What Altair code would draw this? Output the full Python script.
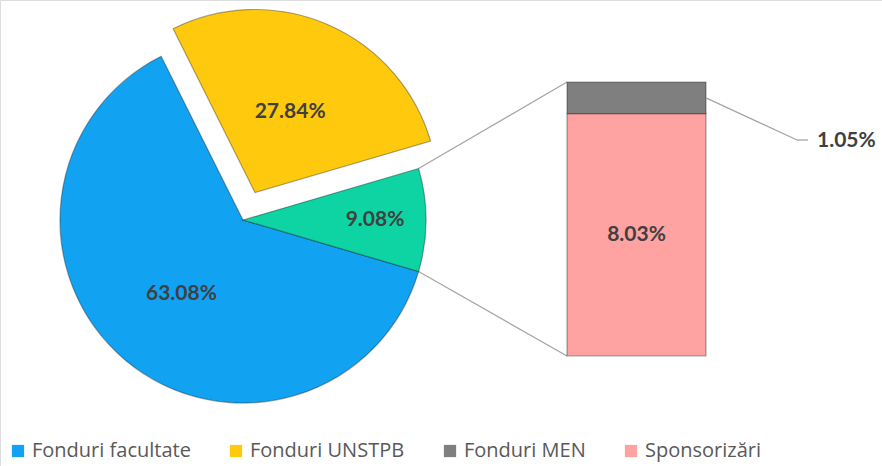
import math
import altair as alt
import pandas as pd

# Funding sources (percent of total)
pie_names = ["Fonduri facultate", "Fonduri UNSTPB", "Altele"]
pie_values = [63.08, 27.84, 9.08]
bar_names = ["Sponsorizări", "Fonduri MEN"]
bar_values = [8.03, 1.05]

legend_names = ["Fonduri facultate", "Fonduri UNSTPB", "Fonduri MEN", "Sponsorizări"]
legend_colors = ["#12A2F2", "#FFC90E", "#7F7F7F", "#FFA2A2"]
other_color = "#0ED3A2"
label_color = "#404040"

W, H = 882, 466
cx, cy, R = 243, 220, 183
explode = 30
bar_left, bar_right, bar_top, bar_bottom = 567, 706, 82, 356

total = sum(pie_values)
other = pie_values[-1]
# rotate so the "other" slice is centred on the right-hand side
start = math.pi / 2 + other / total * math.pi
theta_scale = alt.Scale(domain=[0, total], range=[start, start + 2 * math.pi])

pie_df = pd.DataFrame({"name": pie_names, "value": pie_values, "idx": range(len(pie_names))})
bar_df = pd.DataFrame({"name": bar_names, "value": bar_values, "idx": range(len(bar_names))})

color = alt.Color(
    "name:N",
    scale=alt.Scale(domain=legend_names, range=legend_colors),
    legend=alt.Legend(
        title=None, orient="none", legendX=8, legendY=441, direction="horizontal",
        symbolType="square", symbolSize=150, symbolStrokeWidth=0,
        labelFont="Open Sans", labelFontSize=20, labelColor="#595959",
        labelOffset=4, columnPadding=35, labelLimit=300,
    ),
)

pie_base = (
    alt.Chart(pie_df)
    .transform_stack(stack="value", groupby=[], as_=["v0", "v1"],
                     sort=[alt.SortField("idx", order="ascending")])
    .transform_calculate(mid="(datum.v0 + datum.v1) / 2",
                         lbl="format(datum.value, '.2f') + '%'")
)


def slice_center(name):
    """Pie centre for a slice; the UNSTPB slice is pulled out along its bisector."""
    i = pie_names.index(name)
    if name != "Fonduri UNSTPB":
        return cx, cy
    v0 = sum(pie_values[:i])
    mid = start + (v0 + pie_values[i] / 2) / total * 2 * math.pi
    return cx + explode * math.sin(mid), cy - explode * math.cos(mid)


def arc_layer(name, col):
    x0, y0 = slice_center(name)
    return (
        pie_base.transform_filter(alt.datum.name == name)
        .mark_arc(outerRadius=R, stroke="#00000055", strokeWidth=1.2)
        .encode(
            theta=alt.Theta("v0:Q", scale=theta_scale, stack=False),
            theta2="v1:Q",
            x=alt.value(x0), y=alt.value(y0),
            color=color if col is None else alt.value(col),
        )
    )


def pie_pct(name, r):
    x0, y0 = slice_center(name)
    return (
        pie_base.transform_filter(alt.datum.name == name)
        .mark_text(radius=r, font="Lato", fontWeight="bold", fontSize=21, color=label_color)
        .encode(
            theta=alt.Theta("mid:Q", scale=theta_scale, stack=False),
            x=alt.value(x0), y=alt.value(y0),
            text="lbl:N",
        )
    )


arcs = [
    arc_layer("Fonduri facultate", None),
    arc_layer("Fonduri UNSTPB", None),
    arc_layer("Altele", other_color),
]
pie_labels = [
    pie_pct("Fonduri facultate", 96),
    pie_pct("Fonduri UNSTPB", 88),
    pie_pct("Altele", 132),
]

# connector lines from the edges of the "other" slice to the bar corners
a_top = start - other / total * 2 * math.pi
a_bot = start
p_top = (cx + R * math.sin(a_top), cy - R * math.cos(a_top))
p_bot = (cx + R * math.sin(a_bot), cy - R * math.cos(a_bot))
connectors = [
    alt.Chart(pie_df.head(1)).mark_rule(color="#A6A6A6", strokeWidth=1.3).encode(
        x=alt.value(p[0]), y=alt.value(p[1]), x2=alt.value(bar_left), y2=alt.value(by)
    )
    for p, by in [(p_top, bar_top), (p_bot, bar_bottom)]
]

y_scale = alt.Scale(domain=[0, sum(bar_values)], range=[bar_bottom, bar_top])
bar_base = (
    alt.Chart(bar_df)
    .transform_stack(stack="value", groupby=[], as_=["b0", "b1"],
                     sort=[alt.SortField("idx", order="ascending")])
    .transform_calculate(bmid="(datum.b0 + datum.b1) / 2",
                         lbl="format(datum.value, '.2f') + '%'")
)
bars = bar_base.mark_rect(stroke="#00000055", strokeWidth=1.2).encode(
    x=alt.value(bar_left), x2=alt.value(bar_right),
    y=alt.Y("b0:Q", scale=y_scale, axis=None), y2="b1:Q",
    color=color,
)
inner_label = bar_base.transform_filter(alt.datum.name == "Sponsorizări").mark_text(
    font="Lato", fontWeight="bold", fontSize=21, color=label_color
).encode(
    x=alt.value((bar_left + bar_right) / 2),
    y=alt.Y("bmid:Q", scale=y_scale, axis=None),
    text="lbl:N",
)
# leader line and outside label for the thin top segment
leader1 = bar_base.transform_filter(alt.datum.name == "Fonduri MEN").mark_rule(
    color="#A6A6A6", strokeWidth=1.3
).encode(
    x=alt.value(bar_right), x2=alt.value(797),
    y=alt.Y("bmid:Q", scale=y_scale, axis=None), y2=alt.value(140),
)
leader2 = alt.Chart(pie_df.head(1)).mark_rule(color="#A6A6A6", strokeWidth=1.3).encode(
    x=alt.value(797), x2=alt.value(808), y=alt.value(140)
)
outer_label = bar_base.transform_filter(alt.datum.name == "Fonduri MEN").mark_text(
    font="Lato", fontWeight="bold", fontSize=21, color=label_color, align="left"
).encode(
    x=alt.value(817), y=alt.value(141), text="lbl:N",
)

chart = (
    alt.layer(*connectors, *arcs, *pie_labels, bars, inner_label, leader1, leader2, outer_label)
    .properties(width=W, height=H, padding=0, autosize=alt.AutoSizeParams(type="none"))
    .configure_view(stroke=None)
    .configure(background="white")
)

chart.save("out.html", embed_options={"renderer": "svg", "actions": False})
